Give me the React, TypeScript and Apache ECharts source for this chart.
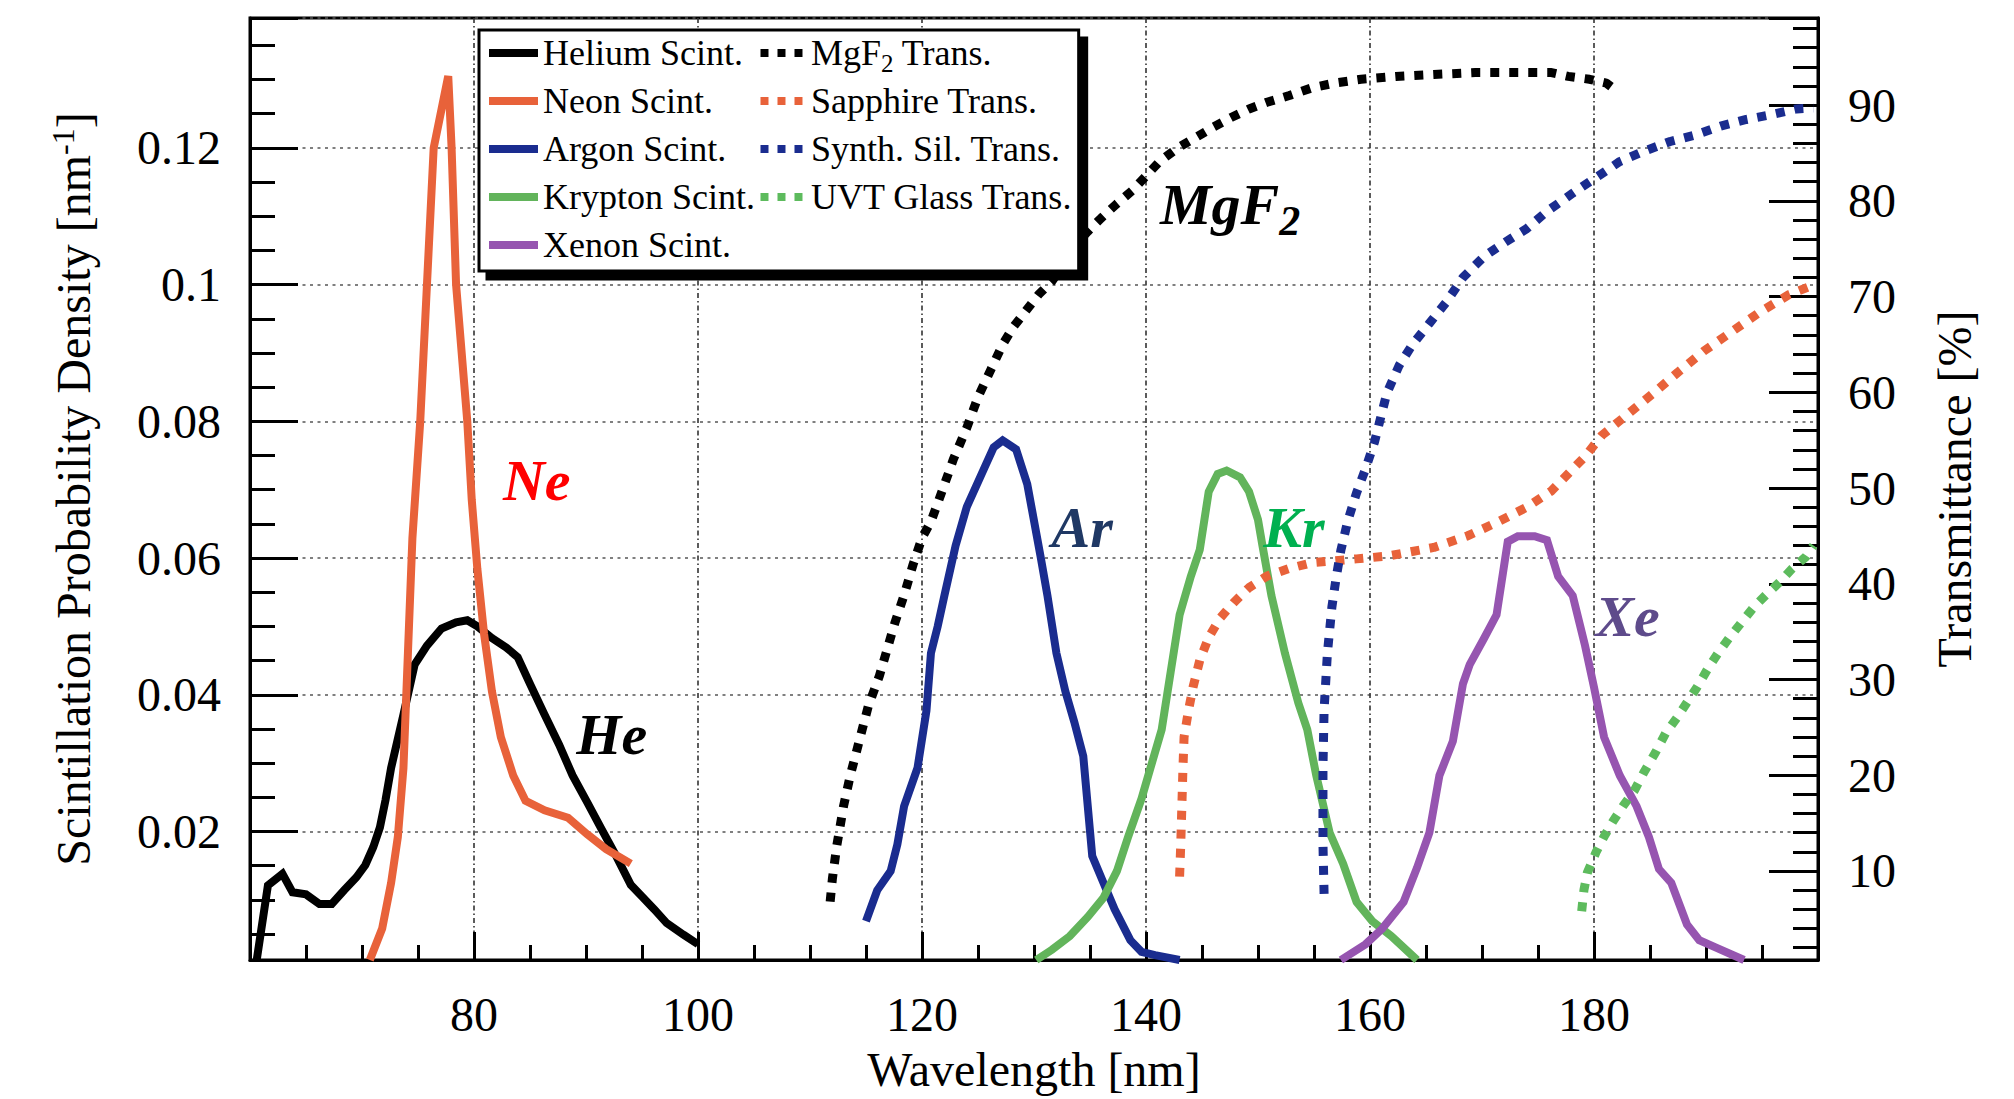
import { useEffect, useRef } from 'react';
import * as echarts from 'echarts';

type Point = [number, number];

const SERIF = '"Liberation Serif", "Times New Roman", Times, serif';

/* ---------- axis ranges ---------- */
const WAVELENGTH_MIN = 60;
const WAVELENGTH_MAX = 200;
const WAVELENGTH_STEP = 20;
const DENSITY_MIN = 0.0012;
const DENSITY_MAX = 0.139;
const DENSITY_STEP = 0.02;
const TRANSMITTANCE_MIN = 0.7;
const TRANSMITTANCE_MAX = 99.1;
const TRANSMITTANCE_STEP = 10;

/* ---------- scintillation spectra: [wavelength nm, probability density nm^-1] ---------- */
const heliumScint: Point[] = [
  [60.6, 0.0012], [61.6, 0.0121], [62.9, 0.0138], [63.8, 0.0111], [65.0, 0.0108],
  [66.2, 0.0094], [67.3, 0.0094], [68.4, 0.0114], [69.5, 0.0133], [70.3, 0.0151],
  [71.0, 0.0177], [71.6, 0.0206], [72.1, 0.0246], [72.6, 0.0293], [73.7, 0.0371],
  [74.7, 0.0444], [75.8, 0.0472], [77.1, 0.0497], [78.4, 0.0506], [79.4, 0.0509],
  [80.3, 0.0500], [81.6, 0.0483], [82.9, 0.0469], [83.9, 0.0455], [85.0, 0.0416],
  [86.3, 0.0371], [87.6, 0.0327], [88.8, 0.0282], [90.1, 0.0243], [91.4, 0.0203],
  [92.7, 0.0164], [94.0, 0.0122], [95.0, 0.0105], [96.1, 0.0086], [97.2, 0.0066],
  [98.7, 0.0049], [100.0, 0.0035],
];

const neonScint: Point[] = [
  [70.7, 0.0012], [71.8, 0.0058], [72.6, 0.0125], [73.2, 0.0192], [73.7, 0.0293],
  [74.1, 0.0461], [74.5, 0.0629], [75.2, 0.0800], [75.8, 0.1000], [76.4, 0.1200],
  [77.7, 0.1305], [78.0, 0.1200], [78.4, 0.1000], [79.4, 0.0800], [79.8, 0.0685],
  [80.3, 0.0584], [80.9, 0.0489], [81.6, 0.0405], [82.4, 0.0338], [83.5, 0.0282],
  [84.6, 0.0245], [86.3, 0.0231], [88.4, 0.0220], [90.1, 0.0196], [91.8, 0.0174],
  [94.0, 0.0153],
];

const argonScint: Point[] = [
  [115.0, 0.0069], [116.0, 0.0114], [117.2, 0.0142], [117.8, 0.0181], [118.4, 0.0237],
  [119.6, 0.0293], [120.4, 0.0377], [120.8, 0.0461], [121.4, 0.0500], [122.0, 0.0545],
  [123.0, 0.0618], [124.0, 0.0675], [125.6, 0.0733], [126.4, 0.0762], [127.2, 0.0772],
  [128.4, 0.0759], [129.4, 0.0708], [130.6, 0.0601], [131.2, 0.0545], [132.0, 0.0461],
  [132.8, 0.0405], [133.6, 0.0360], [134.4, 0.0310], [135.2, 0.0164], [136.2, 0.0125],
  [137.2, 0.0086], [138.6, 0.0041], [139.6, 0.0024], [140.8, 0.0019], [143.0, 0.0012],
];

const kryptonScint: Point[] = [
  [130.2, 0.0012], [131.6, 0.0027], [133.2, 0.0047], [134.8, 0.0075], [136.2, 0.0103],
  [137.4, 0.0142], [138.4, 0.0192], [139.6, 0.0248], [140.4, 0.0293], [141.4, 0.0349],
  [142.2, 0.0433], [143.0, 0.0517], [144.0, 0.0573], [144.8, 0.0612], [145.6, 0.0697],
  [146.4, 0.0723], [147.2, 0.0728], [148.4, 0.0718], [149.2, 0.0697], [150.0, 0.0656],
  [150.4, 0.0618], [151.2, 0.0545], [152.4, 0.0461], [153.6, 0.0388], [154.4, 0.0349],
  [155.2, 0.0282], [156.4, 0.0198], [157.6, 0.0153], [158.8, 0.0097], [160.2, 0.0069],
  [161.9, 0.0047], [164.2, 0.0012],
];

const xenonScint: Point[] = [
  [157.4, 0.0012], [159.6, 0.0035], [161.1, 0.0058], [163.0, 0.0097], [164.2, 0.0147],
  [165.3, 0.0198], [166.2, 0.0282], [167.4, 0.0332], [168.3, 0.0416], [168.9, 0.0444],
  [170.2, 0.0483], [171.3, 0.0517], [172.3, 0.0624], [173.2, 0.0632], [174.7, 0.0632],
  [175.8, 0.0626], [176.8, 0.0573], [178.1, 0.0545], [179.2, 0.0472], [180.0, 0.0411],
  [180.9, 0.0338], [182.3, 0.0282], [183.8, 0.0237], [184.9, 0.0192], [185.8, 0.0145],
  [186.9, 0.0125], [188.3, 0.0064], [189.4, 0.0041], [190.9, 0.0030], [193.4, 0.0012],
];

/* ---------- window transmittance: [wavelength nm, transmittance %] ---------- */
const mgf2Trans: Point[] = [
  [111.8, 6.8], [112.0, 9.2], [112.4, 12.7], [113.0, 16.8], [113.6, 20.0],
  [114.4, 23.6], [115.2, 27.2], [116.2, 30.4], [116.8, 32.8], [117.6, 36.0],
  [118.4, 38.8], [119.2, 42.0], [120.0, 44.8], [120.8, 46.5], [121.8, 49.7],
  [122.8, 53.0], [124.0, 56.3], [125.0, 59.5], [126.2, 62.5], [127.2, 65.0],
  [128.2, 66.9], [129.4, 68.7], [130.4, 70.2], [131.6, 71.6], [132.4, 73.0],
  [133.6, 75.3], [134.8, 76.8], [136.0, 78.2], [137.4, 79.7], [138.8, 81.1],
  [140.0, 82.6], [141.2, 84.1], [142.8, 85.5], [144.4, 86.6], [146.0, 87.7],
  [147.6, 88.7], [149.2, 89.6], [150.8, 90.3], [152.8, 91.0], [154.8, 91.8],
  [156.8, 92.3], [159.2, 92.7], [162.3, 93.0], [165.7, 93.2], [169.4, 93.4],
  [173.2, 93.4], [176.2, 93.4], [177.7, 93.0], [179.6, 92.7], [181.1, 92.3],
  [181.9, 91.6],
];

const sapphireTrans: Point[] = [
  [143.0, 9.4], [143.1, 12.7], [143.2, 16.7], [143.3, 20.8], [143.4, 24.0],
  [143.8, 26.8], [144.2, 29.2], [144.8, 32.0], [145.6, 34.4], [146.6, 36.4],
  [147.8, 38.0], [149.2, 39.6], [150.8, 40.8], [152.8, 41.6], [154.8, 42.2],
  [156.8, 42.4], [158.8, 42.6], [161.6, 42.9], [165.7, 43.8], [168.7, 45.0],
  [171.3, 46.4], [174.0, 48.0], [176.2, 49.7], [179.2, 53.3], [180.7, 55.5],
  [183.0, 57.7], [185.3, 59.9], [187.5, 62.1], [189.8, 64.3], [192.5, 66.5],
  [194.7, 68.3], [197.4, 70.2], [199.6, 71.2],
];

const synthSilTrans: Point[] = [
  [155.9, 7.6], [155.8, 12.8], [155.8, 20.8], [155.9, 26.8], [156.2, 32.8],
  [156.6, 37.6], [157.0, 40.8], [157.4, 43.5], [158.0, 46.5], [158.8, 49.5],
  [159.6, 52.0], [160.4, 54.8], [161.5, 59.9], [162.6, 62.8], [163.8, 65.0],
  [165.3, 67.2], [166.8, 69.4], [168.3, 72.0], [170.2, 74.2], [172.1, 75.7],
  [174.0, 77.1], [175.8, 78.9], [178.1, 80.8], [180.0, 82.3], [182.3, 84.1],
  [184.5, 85.2], [186.8, 86.2], [189.1, 86.9], [191.3, 87.8], [193.6, 88.5],
  [195.8, 89.0], [198.1, 89.6], [199.6, 89.7],
];

const uvtGlassTrans: Point[] = [
  [178.9, 5.8], [179.1, 8.0], [179.4, 9.8], [180.2, 12.0], [180.9, 13.6],
  [181.7, 15.2], [182.6, 16.8], [183.6, 18.4], [184.5, 20.4], [185.5, 22.4],
  [186.4, 24.4], [187.4, 26.0], [188.3, 27.6], [189.2, 29.2], [190.2, 31.2],
  [191.1, 32.8], [192.1, 34.4], [193.2, 36.0], [194.3, 37.6], [195.5, 39.0],
  [196.6, 40.2], [197.7, 41.6], [198.9, 42.8], [199.6, 44.0],
];

/* ---------- series styling ---------- */
const BLACK = '#000000';
const ORANGE = '#E8623A';
const NAVY = '#1A2C8F';
const GREEN = '#62B45B';
const PURPLE = '#9655B0';

interface Tag {
  text: string;
  color: string;
  at: Point;
}

interface Spec {
  name: string;
  data: Point[];
  color: string;
  tag?: Tag;
}

const scintSpecs: Spec[] = [
  { name: 'Helium Scint.', data: heliumScint, color: BLACK, tag: { text: 'He', color: '#000000', at: [92.3, 0.0342] } },
  { name: 'Neon Scint.', data: neonScint, color: ORANGE, tag: { text: 'Ne', color: '#FF0000', at: [85.6, 0.0714] } },
  { name: 'Argon Scint.', data: argonScint, color: NAVY, tag: { text: 'Ar', color: '#1F3864', at: [134.3, 0.0644] } },
  { name: 'Krypton Scint.', data: kryptonScint, color: GREEN, tag: { text: 'Kr', color: '#00B050', at: [153.2, 0.0644] } },
  { name: 'Xenon Scint.', data: xenonScint, color: PURPLE, tag: { text: 'Xe', color: '#5E4B8B', at: [183.0, 0.0515] } },
];

const transSpecs: Spec[] = [
  { name: 'MgF2 Trans.', data: mgf2Trans, color: BLACK, tag: { text: '{m|MgF}{s|2}', color: '#000000', at: [147.5, 79.6] } },
  { name: 'Sapphire Trans.', data: sapphireTrans, color: ORANGE },
  { name: 'Synth. Sil. Trans.', data: synthSilTrans, color: NAVY },
  { name: 'UVT Glass Trans.', data: uvtGlassTrans, color: '#5DBB5D' },
];

const SOLID_ICON = 'path://M0,0H50V8H0Z';
const DOTTED_ICON = 'path://M0,0H8V8H0Z M17,0H25V8H17Z M34,0H42V8H34Z';

const TAG_FONT = {
  fontFamily: SERIF,
  fontSize: 58,
  fontWeight: 'bold' as const,
  fontStyle: 'italic' as const,
};

function tagMarker(tag: Tag) {
  return {
    silent: true,
    symbol: 'circle',
    symbolSize: 0,
    itemStyle: { color: 'transparent' },
    label: {
      show: true,
      position: 'inside',
      formatter: tag.text,
      color: tag.color,
      ...TAG_FONT,
      rich: {
        m: { ...TAG_FONT, color: tag.color, lineHeight: 74 },
        s: {
          ...TAG_FONT,
          fontSize: 42,
          color: tag.color,
          lineHeight: 42,
          verticalAlign: 'bottom',
        },
      },
    },
    data: [{ coord: tag.at }],
  };
}

function buildSeries(spec: Spec, dotted: boolean) {
  return {
    name: spec.name,
    type: 'line',
    xAxisIndex: 0,
    yAxisIndex: dotted ? 1 : 0,
    data: spec.data,
    color: spec.color,
    symbol: 'none',
    showSymbol: false,
    clip: false,
    silent: true,
    lineStyle: dotted
      ? { color: spec.color, width: 9, type: [9, 10], cap: 'butt' }
      : { color: spec.color, width: 8, join: 'miter' },
    z: dotted ? 3 : 2,
    markPoint: spec.tag ? tagMarker(spec.tag) : undefined,
  };
}

function buildOption() {
  const tickLine = { color: '#000', width: 3 };
  const tickText = { fontFamily: SERIF, fontSize: 48, color: '#000' };

  return {
    animation: false,
    backgroundColor: '#ffffff',
    textStyle: { fontFamily: SERIF },
    grid: {
      left: 250,
      right: 196,
      top: 18,
      bottom: 139,
      show: true,
      borderColor: '#000',
      borderWidth: 3,
      backgroundColor: 'transparent',
    },
    legend: {
      orient: 'vertical',
      left: 479,
      top: 30,
      height: 240,
      padding: [0, 6, 3, 10],
      itemGap: 2,
      itemWidth: 49,
      itemHeight: 8,
      selectedMode: false,
      backgroundColor: '#ffffff',
      borderColor: '#000',
      borderWidth: 3,
      borderRadius: 0,
      shadowColor: '#000',
      shadowBlur: 0,
      shadowOffsetX: 8,
      shadowOffsetY: 8,
      itemStyle: { borderWidth: 0 },
      textStyle: {
        fontFamily: SERIF,
        fontSize: 36,
        color: '#000',
        lineHeight: 46,
        rich: {
          n: { fontFamily: SERIF, fontSize: 36, color: '#000', lineHeight: 46 },
          s: {
            fontFamily: SERIF,
            fontSize: 25,
            color: '#000',
            lineHeight: 25,
            verticalAlign: 'top',
            padding: [21, 0, 0, 0],
          },
        },
      },
      formatter: (name: string) =>
        name === 'MgF2 Trans.' ? '{n|MgF}{s|2}{n| Trans.}' : name,
      data: [
        ...scintSpecs.map((s) => ({ name: s.name, icon: SOLID_ICON })),
        ...transSpecs.map((s) => ({ name: s.name, icon: DOTTED_ICON })),
      ],
    },
    xAxis: {
      type: 'value',
      min: WAVELENGTH_MIN,
      max: WAVELENGTH_MAX,
      interval: WAVELENGTH_STEP,
      name: 'Wavelength [nm]',
      nameLocation: 'middle',
      nameGap: 85,
      nameTextStyle: { fontFamily: SERIF, fontSize: 48, color: '#000' },
      axisLine: { show: true, lineStyle: tickLine },
      axisTick: { show: true, inside: true, length: 28, lineStyle: tickLine },
      minorTick: { show: true, splitNumber: 4, length: 15, lineStyle: tickLine },
      axisLabel: {
        show: true,
        margin: 30,
        ...tickText,
        showMinLabel: false,
        showMaxLabel: false,
      },
      splitLine: {
        show: true,
        lineStyle: { color: '#333', width: 1.6, type: [5, 3, 1.5, 3] },
      },
      minorSplitLine: { show: false },
    },
    yAxis: [
      {
        type: 'value',
        position: 'left',
        min: DENSITY_MIN,
        max: DENSITY_MAX,
        minInterval: DENSITY_STEP,
        maxInterval: DENSITY_STEP,
        splitNumber: 7,
        name: '{t|Scintillation Probability Density [nm}{p|-1}{t|]}',
        nameLocation: 'middle',
        nameRotate: 90,
        nameGap: 151,
        nameTextStyle: {
          fontFamily: SERIF,
          fontSize: 48,
          color: '#000',
          rich: {
            t: { fontFamily: SERIF, fontSize: 48, color: '#000', lineHeight: 52 },
            p: { fontFamily: SERIF, fontSize: 32, color: '#000', lineHeight: 32, verticalAlign: 'top' },
          },
        },
        axisLine: { show: true, lineStyle: tickLine },
        axisTick: { show: true, inside: true, length: 48, lineStyle: tickLine },
        minorTick: { show: true, splitNumber: 4, length: 25, lineStyle: tickLine },
        axisLabel: {
          show: true,
          margin: 29,
          ...tickText,
          showMinLabel: false,
          showMaxLabel: false,
        },
        splitLine: {
          show: true,
          lineStyle: { color: '#555', width: 1.6, type: [3, 4.5] },
        },
      },
      {
        type: 'value',
        position: 'right',
        min: TRANSMITTANCE_MIN,
        max: TRANSMITTANCE_MAX,
        minInterval: TRANSMITTANCE_STEP,
        maxInterval: TRANSMITTANCE_STEP,
        splitNumber: 10,
        name: 'Transmittance [%]',
        nameLocation: 'middle',
        nameRotate: 90,
        nameGap: 112,
        nameTextStyle: { fontFamily: SERIF, fontSize: 48, color: '#000' },
        axisLine: { show: true, lineStyle: tickLine },
        axisTick: { show: true, inside: true, length: 49, lineStyle: tickLine },
        minorTick: { show: true, splitNumber: 5, length: 25, lineStyle: tickLine },
        axisLabel: {
          show: true,
          margin: 30,
          ...tickText,
          showMinLabel: false,
          showMaxLabel: false,
        },
        splitLine: { show: false },
      },
    ],
    series: [
      ...scintSpecs.map((s) => buildSeries(s, false)),
      ...transSpecs.map((s) => buildSeries(s, true)),
    ],
  };
}

export default function App() {
  const ref = useRef<HTMLDivElement>(null);

  useEffect(() => {
    if (!ref.current) return;
    const chart = echarts.init(ref.current, null, { renderer: 'svg' });
    chart.setOption(buildOption() as any);
    return () => {
      chart.dispose();
    };
  }, []);

  return (
    <div
      ref={ref}
      style={{
        position: 'absolute',
        left: 0,
        top: 0,
        width: 2014,
        height: 1099,
        background: '#ffffff',
      }}
    />
  );
}
